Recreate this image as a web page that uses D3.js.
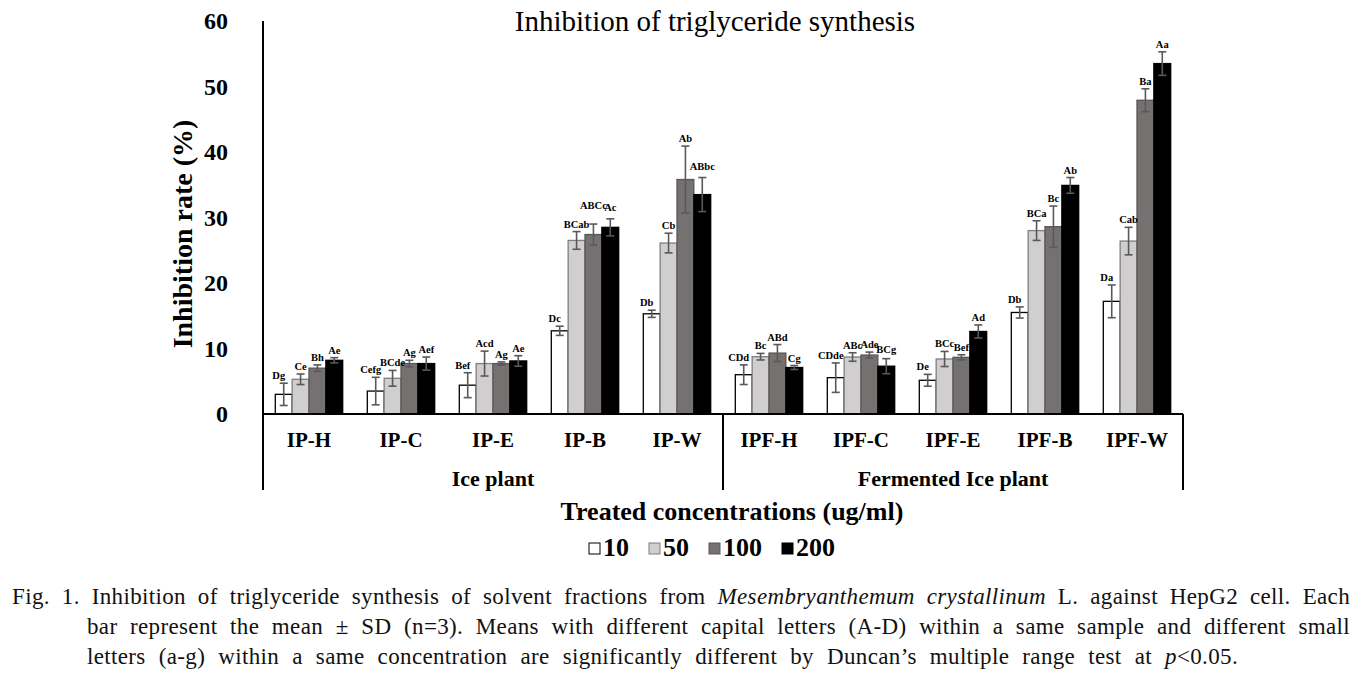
<!DOCTYPE html>
<html>
<head>
<meta charset="utf-8">
<script src="https://cdn.jsdelivr.net/npm/d3@7"></script>
<style>
  body { margin: 0; background: #fff; }
  svg { display: block; font-family: "Liberation Serif", "Times New Roman", serif; }
</style>
</head>
<body>
<div id="chart"></div>
<script>
// samples on the x axis
const categories = ["IP-H", "IP-C", "IP-E", "IP-B", "IP-W", "IPF-H", "IPF-C", "IPF-E", "IPF-B", "IPF-W"];
const groups = ["Ice plant", "Fermented Ice plant"];
// treated concentrations (ug/ml)
const series = ["10", "50", "100", "200"];

// mean inhibition rate (%) per concentration
const mean10 = [3.0, 3.5, 4.4, 12.7, 15.3, 6.0, 5.55, 5.15, 15.5, 17.2];
const mean50 = [5.3, 5.45, 7.7, 26.5, 26.1, 8.75, 8.7, 8.4, 28.0, 26.4];
const mean100 = [7.0, 7.7, 7.7, 27.4, 35.8, 9.3, 9.0, 8.65, 28.6, 47.9];
const mean200 = [8.2, 7.7, 8.1, 28.5, 33.5, 7.1, 7.3, 12.6, 34.9, 53.5];

// standard deviations
const sd10 = [1.7, 2.1, 1.9, 0.7, 0.55, 1.5, 2.25, 0.9, 0.85, 2.5];
const sd50 = [0.8, 1.2, 1.9, 1.35, 1.5, 0.5, 0.65, 1.15, 1.5, 2.1];
const sd100 = [0.5, 0.5, 0.25, 1.6, 5.1, 1.3, 0.45, 0.4, 3.15, 1.75];
const sd200 = [0.4, 1.0, 0.8, 1.3, 2.6, 0.3, 1.15, 1.0, 1.2, 1.8];

// Duncan letters
const letters10 = ["Dg", "Cefg", "Bef", "Dc", "Db", "CDd", "CDde", "De", "Db", "Da"];
const letters50 = ["Ce", "BCde", "Acd", "BCab", "Cb", "Bc", "ABc", "BCc", "BCa", "Cab"];
const letters100 = ["Bh", "Ag", "Ag", "ABCc", "Ab", "ABd", "Ade", "Bef", "Bc", "Ba"];
const letters200 = ["Ae", "Aef", "Ae", "Ac", "ABbc", "Cg", "BCg", "Ad", "Ab", "Aa"];

const yTicks = [0, 10, 20, 30, 40, 50, 60];

(function () {
  const width = 1365;
  const height = 677;
  const margin = { top: 21, left: 263, right: 182, bottom: 263 }; // plot: x 263..1183, y 21..414

  const means = [mean10, mean50, mean100, mean200];
  const sds = [sd10, sd50, sd100, sd200];
  const letters = [letters10, letters50, letters100, letters200];
  const fills = ["#ffffff", "#d0cece", "#767171", "#000000"];
  const strokes = ["#000000", "#7f7f7f", "#5a5656", "#000000"];

  const data = [];
  categories.forEach((c, i) => {
    series.forEach((s, j) => {
      data.push({ cat: c, conc: s, j: j, value: means[j][i], sd: sds[j][i], label: letters[j][i] });
    });
  });

  const svg = d3.select("#chart").append("svg").attr("width", width).attr("height", height);

  const x = d3.scaleBand().domain(categories).range([margin.left, width - margin.right]);
  const xs = d3.scaleBand().domain(series).range([0, x.bandwidth()]).paddingOuter(0.73);
  const y = d3.scaleLinear().domain([0, 60]).range([height - margin.bottom, margin.top]);

  const y0 = y(0);
  const axisBottom = y0 + 76;

  // title
  svg.append("text")
    .attr("x", 715).attr("y", 31)
    .attr("text-anchor", "middle")
    .style("font-size", "29px")
    .text("Inhibition of triglyceride synthesis");

  // y tick labels (no tick marks)
  svg.append("g")
    .selectAll("text")
    .data(yTicks)
    .enter()
    .append("text")
    .attr("x", 228)
    .attr("y", (d) => y(d))
    .attr("dy", "0.35em")
    .attr("text-anchor", "end")
    .style("font-size", "24px")
    .style("font-weight", "bold")
    .text((d) => d);

  // y axis title
  svg.append("text")
    .attr("transform", `translate(192, 234) rotate(-90)`)
    .attr("text-anchor", "middle")
    .style("font-size", "28px")
    .style("font-weight", "bold")
    .text("Inhibition rate (%)");

  // bars
  svg.append("g")
    .selectAll("rect")
    .data(data)
    .enter()
    .append("rect")
    .attr("x", (d) => x(d.cat) + xs(d.conc))
    .attr("y", (d) => y(d.value))
    .attr("width", xs.bandwidth())
    .attr("height", (d) => y0 - y(d.value))
    .attr("fill", (d) => fills[d.j])
    .attr("stroke", (d) => strokes[d.j])
    .attr("stroke-width", 1.3);

  // error bars
  const err = svg.append("g").attr("stroke", "#595959").attr("stroke-width", 1.6);
  const cx = (d) => x(d.cat) + xs(d.conc) + xs.bandwidth() / 2;
  data.forEach((d) => {
    const c = cx(d);
    err.append("line").attr("x1", c).attr("x2", c).attr("y1", y(d.value - d.sd)).attr("y2", y(d.value + d.sd));
    err.append("line").attr("x1", c - 4).attr("x2", c + 4).attr("y1", y(d.value - d.sd)).attr("y2", y(d.value - d.sd));
    err.append("line").attr("x1", c - 4).attr("x2", c + 4).attr("y1", y(d.value + d.sd)).attr("y2", y(d.value + d.sd));
  });

  // letters above error bars (a few lifted like in the figure so they don't collide)
  const lift = { "IP-B|100": 11, "IP-B|200": 4, "IP-W|200": 4, "IPF-C|200": 2 };
  svg.append("g")
    .selectAll("text")
    .data(data)
    .enter()
    .append("text")
    .attr("x", (d) => cx(d) - (d.j === 0 ? 5 : 0))
    .attr("y", (d) => y(d.value + d.sd) - 4 - (lift[d.cat + "|" + d.conc] || 0))
    .attr("text-anchor", "middle")
    .style("font-size", "10.5px")
    .style("font-weight", "bold")
    .text((d) => d.label);

  // axes frame
  const frame = svg.append("g").attr("stroke", "#000").attr("stroke-width", 2);
  frame.append("line").attr("x1", margin.left).attr("x2", margin.left).attr("y1", y(60)).attr("y2", axisBottom);
  frame.append("line").attr("x1", margin.left).attr("x2", width - margin.right).attr("y1", y0).attr("y2", y0);
  const split = x(categories[5]);
  frame.append("line").attr("x1", split).attr("x2", split).attr("y1", y0).attr("y2", axisBottom);
  frame.append("line").attr("x1", width - margin.right).attr("x2", width - margin.right).attr("y1", y0).attr("y2", axisBottom);

  // category labels
  svg.append("g")
    .selectAll("text")
    .data(categories)
    .enter()
    .append("text")
    .attr("x", (d) => x(d) + x.bandwidth() / 2)
    .attr("y", y0 + 33)
    .attr("text-anchor", "middle")
    .style("font-size", "21px")
    .style("font-weight", "bold")
    .text((d) => d);

  // group labels
  svg.append("g")
    .selectAll("text")
    .data(groups)
    .enter()
    .append("text")
    .attr("x", (d, i) => i === 0 ? (margin.left + split) / 2 : (split + width - margin.right) / 2)
    .attr("y", y0 + 72)
    .attr("text-anchor", "middle")
    .style("font-size", "22px")
    .style("font-weight", "bold")
    .text((d) => d);

  // x axis title
  svg.append("text")
    .attr("x", 732).attr("y", 520)
    .attr("text-anchor", "middle")
    .style("font-size", "26px")
    .style("font-weight", "bold")
    .text("Treated concentrations (ug/ml)");

  // legend
  const legend = svg.append("g");
  let lx = 589;
  series.forEach((s, j) => {
    legend.append("rect")
      .attr("x", lx).attr("y", 543)
      .attr("width", 11).attr("height", 11)
      .attr("fill", fills[j])
      .attr("stroke", strokes[j])
      .attr("stroke-width", 1);
    const t = legend.append("text")
      .attr("x", lx + 14).attr("y", 556)
      .style("font-size", "26px")
      .style("font-weight", "bold")
      .text(s);
    lx += 14 + t.node().getComputedTextLength() + 20;
  });

  // caption, justified by widening word gaps
  const cap = svg.append("g")
    .style("font-size", "23px")
    .style("letter-spacing", "0.35px")
    .attr("fill", "#111");
  function justify(t, target) {
    const spaces = (t.text().match(/ /g) || []).length;
    const natural = t.node().getComputedTextLength();
    t.style("word-spacing", Math.max(0, (target - natural) / spaces) + "px");
  }
  const l1 = cap.append("text").attr("x", 12).attr("y", 604);
  l1.append("tspan").text("Fig. 1. Inhibition of triglyceride synthesis of solvent fractions from ");
  l1.append("tspan").style("font-style", "italic").text("Mesembryanthemum crystallinum");
  l1.append("tspan").text(" L. against HepG2 cell. Each");
  justify(l1, 1338);

  const l2 = cap.append("text").attr("x", 87).attr("y", 634)
    .text("bar represent the mean \u00b1 SD (n=3). Means with different capital letters (A-D) within a same sample and different small");
  justify(l2, 1263);

  const l3 = cap.append("text").attr("x", 87).attr("y", 664);
  l3.append("tspan").text("letters (a-g) within a same concentration are significantly different by Duncan\u2019s multiple range test at ");
  l3.append("tspan").style("font-style", "italic").text("p");
  l3.append("tspan").text("<0.05.");
  justify(l3, 1151);
})();
</script>
</body>
</html>
